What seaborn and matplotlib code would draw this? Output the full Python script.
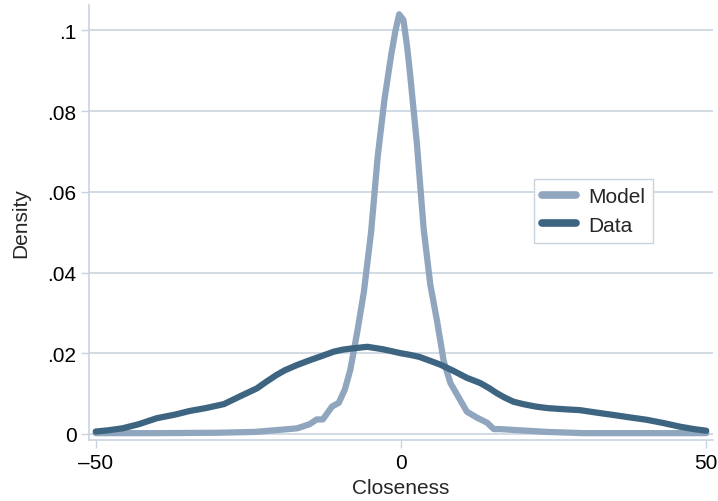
import matplotlib
matplotlib.use('Agg')
import matplotlib.pyplot as plt
import seaborn as sns
import pandas as pd

# density curves
model_x = [-50, -40, -30, -24, -20, -17, -15, -13.8, -12.8, -11.3, -10.2, -9.2, -8.3, -7.2, -6.1,
           -4.9, -3.8, -2.7, -1.6, -0.9, -0.3, 0.4, 1.0, 1.5, 2.6, 3.7, 4.8, 5.9, 7.0, 8.1, 9.7,
           10.8, 12.5, 14.1, 15.2, 16.3, 18.4, 24, 30, 40, 50]
model_y = [.0002, .0002, .0003, .0005, .0010, .0014, .0024, .0036, .0036, .0068, .0077, .0110,
           .0159, .025, .035, .050, .069, .083, .094, .1000, .1040, .1026, .0960, .089, .072,
           .051, .037, .028, .018, .0126, .0084, .0055, .0040, .0028, .0012, .0012, .0010,
           .0005, .0002, .0002, .0002]

data_x = [-50, -48, -45.6, -43, -40, -37, -34.6, -32, -29, -26.4, -23.6, -22, -20.4, -19, -17,
          -14.9, -13, -11, -9.5, -8, -5.5, -3, 0, 1.5, 3, 5, 6.4, 8.5, 10.8, 12, 13, 14.5,
          15.7, 17, 18.4, 20, 22, 24, 27, 29.3, 32, 34.8, 37.5, 40.3, 43, 45.7, 48, 50]
data_y = [.0006, .0009, .0014, .0024, .0039, .0048, .0057, .0064, .0074, .0093, .0113, .0130,
          .0146, .0158, .0171, .0183, .0193, .0204, .0209, .0212, .0216, .0210, .0200, .0196,
          .0191, .0180, .0172, .0157, .0139, .0132, .0126, .0113, .0101, .0090, .0080, .0074,
          .0068, .0064, .0061, .0059, .0053, .0047, .0041, .0035, .0027, .0018, .0012, .0008]

series = ['Model', 'Data']
colors = ['#8FA6BE', '#3D6480']
xticks = [-50, 0, 50]
xtick_labels = ['\u201350', '0', '50']
yticks = [0, .02, .04, .06, .08, .1]
ytick_labels = ['0', '.02', '.04', '.06', '.08', '.1']

df = pd.concat([
    pd.DataFrame({'Closeness': model_x, 'Density': model_y, 'series': 'Model'}),
    pd.DataFrame({'Closeness': data_x, 'Density': data_y, 'series': 'Data'}),
])

sns.set_style('white')
plt.rcParams['font.family'] = ['Liberation Sans', 'DejaVu Sans']
grid_c = '#C9D3DF'
fs = 15

fig = plt.figure(figsize=(7.18, 5.02), dpi=100)
ax = fig.add_axes([0.124, 0.1215, 0.869, 0.8665])

sns.lineplot(data=df, x='Closeness', y='Density', hue='series', hue_order=series,
             palette=colors, linewidth=4.5, ax=ax, legend=False, sort=False,
             estimator=None)
for ln in ax.lines:
    ln.set_solid_capstyle('round')
    ln.set_solid_joinstyle('round')

ax.set_xlim(-51.1, 51.1)
ax.set_ylim(-0.0015, 0.1063)
ax.set_xticks(xticks, xtick_labels)
ax.set_yticks(yticks, ytick_labels)
ax.tick_params(axis='both', labelsize=fs, colors=grid_c, labelcolor='black',
               length=6, width=1, direction='out', left=True, bottom=True, pad=3)
ax.yaxis.grid(True, color=grid_c, linewidth=1.2)
ax.xaxis.grid(False)
for s in ['top', 'right']:
    ax.spines[s].set_visible(False)
for s in ['left', 'bottom']:
    ax.spines[s].set_color(grid_c)
    ax.spines[s].set_linewidth(1.2)
ax.set_xlabel('Closeness', fontsize=fs, labelpad=5)
ax.set_ylabel('Density', fontsize=fs, labelpad=12)

handles = [plt.Line2D([], [], color=c, linewidth=5.5) for c in colors]
leg = ax.legend(handles, series, loc='upper left', bbox_to_anchor=(0.713, 0.600),
                fontsize=fs, frameon=True, fancybox=False, handlelength=1.6,
                handletextpad=0.6, borderpad=0.4, labelspacing=0.45, borderaxespad=0)
leg.get_frame().set_edgecolor(grid_c)
leg.get_frame().set_linewidth(1.0)
leg.get_frame().set_alpha(1)

fig.savefig('out.png', dpi=100)
